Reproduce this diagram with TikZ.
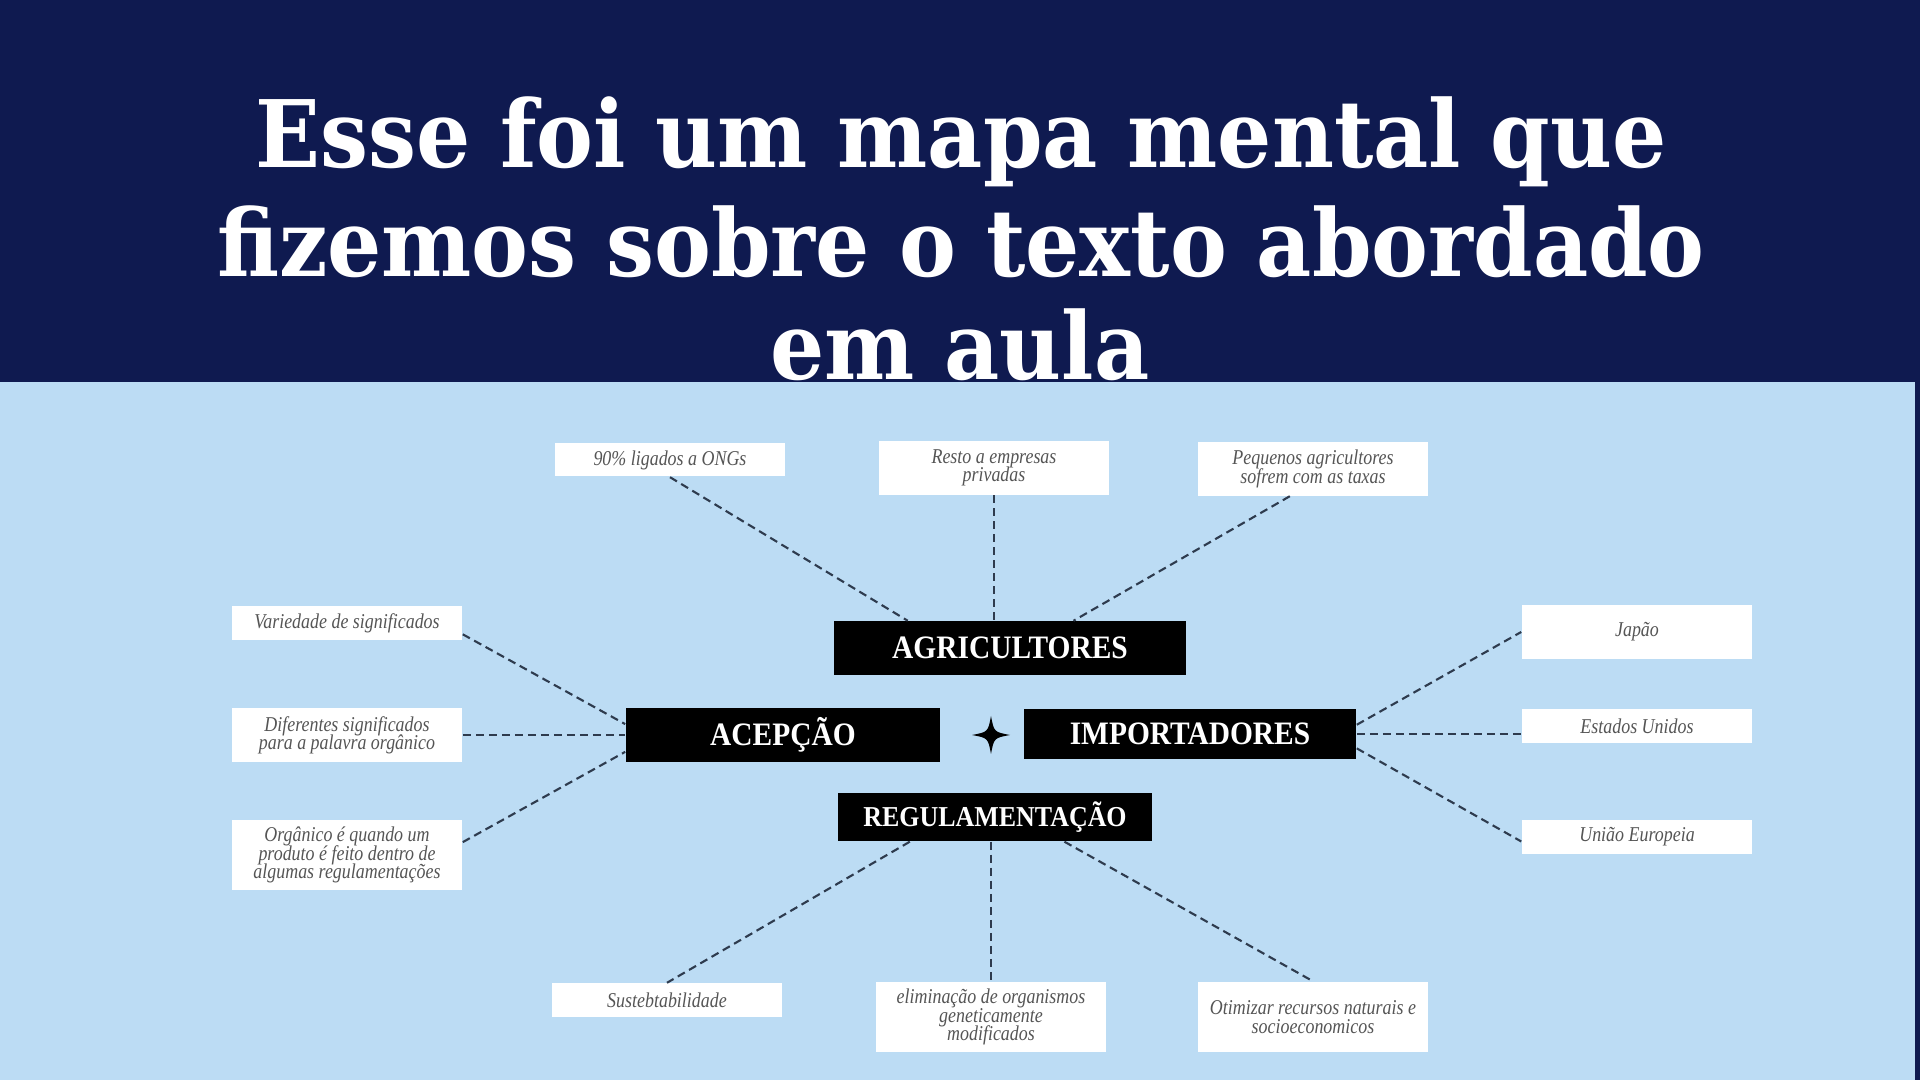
\documentclass[tikz,border=0pt]{standalone}
\usepackage{fontspec}
\setmainfont{Liberation Serif}
\newfontfamily\titlefont[FakeStretch=0.915]{DejaVu Serif}
\newfontfamily\leaffont[FakeStretch=0.85]{Liberation Serif}
\newfontfamily\keyfont[FakeStretch=0.9]{Liberation Serif}
\newcommand{\tightlines}{\lineskiplimit=-10pt\relax}
\usetikzlibrary{calc}
\definecolor{navy}{HTML}{0F1A50}
\definecolor{panel}{HTML}{BCDCF4}
\definecolor{linegray}{HTML}{2E3B4E}
\definecolor{txtgray}{HTML}{555555}

\begin{document}
\begin{tikzpicture}[x=0.01cm,y=-0.01cm,
  title/.style={text=white,anchor=base,inner sep=0pt,font=\titlefont\bfseries\fontsize{26.5}{30}\selectfont},
  keybox/.style={fill=black,text=white,inner sep=0pt,minimum height=0.53cm,font=\keyfont\bfseries\fontsize{9.3}{11}\selectfont},
  leafbox/.style={fill=white,text=txtgray,inner sep=0pt,align=center,minimum width=2.3cm,minimum height=0.33cm,font=\leaffont\itshape\fontsize{6}{5.2}\selectfont\tightlines},
  link/.style={draw=linegray,line width=0.6pt,dash pattern=on 2.3pt off 1.4pt}]
\useasboundingbox (0,0) rectangle (1920,1080);
\fill[navy] (0,0) rectangle (1920,1080);

\node[title] (tline1) at (961,168) {Esse foi um mapa mental que};
\node[title] (tline2) at (961,277) {fizemos sobre o texto abordado};
\node[title] (tline3) at (960,380) {em aula};

\fill[panel] (0,382) rectangle (1915,1080);

\node[keybox,minimum width=3.51cm] (agr) at (1010,648) {AGRICULTORES};
\node[keybox,minimum width=3.14cm] (acep) at (783,735) {ACEPÇÃO};
\node[keybox,minimum width=3.32cm,minimum height=0.50cm] (imp) at (1190,734) {IMPORTADORES};
\node[keybox,minimum width=3.14cm,minimum height=0.48cm,font=\keyfont\bfseries\fontsize{8.2}{10}\selectfont] (reg) at (995,817) {REGULAMENTAÇÃO};

\fill (991,716) .. controls (994,732) .. (1010,735) .. controls (994,738) .. (991,754)
  .. controls (988,738) .. (972,735) .. controls (988,732) .. (991,716) -- cycle;

\node[leafbox] (ong) at (670,460) {90\% ligados a ONGs};
\node[leafbox,minimum height=0.53cm] (resto) at (994,468) {Resto a empresas\\privadas};
\node[leafbox,minimum height=0.53cm] (peq) at (1313,469) {Pequenos agricultores\\sofrem com as taxas};

\node[leafbox,minimum height=0.34cm] (var) at (347,623) {Variedade de significados};
\node[leafbox,minimum height=0.53cm] (dif) at (347,735) {Diferentes significados\\para a palavra orgânico};
\node[leafbox,minimum height=0.70cm] (org) at (347,855) {Orgânico é quando um\\produto é feito dentro de\\algumas regulamentações};

\node[leafbox,minimum height=0.53cm] (jap) at (1637,632) {Japão};
\node[leafbox,minimum height=0.34cm] (eua) at (1637,726) {Estados Unidos};
\node[leafbox] (ue) at (1637,837) {União Europeia};

\node[leafbox] (sus) at (667,1000) {Sustebtabilidade};
\node[leafbox,minimum height=0.70cm] (elim) at (991,1017) {eliminação de organismos\\geneticamente\\modificados};
\node[leafbox,minimum height=0.70cm] (otim) at (1313,1017) {Otimizar recursos naturais e\\socioeconomicos};

\draw[link] (ong.south) -- ($(agr.north west)!0.21!(agr.north east)$);
\draw[link] (resto.south) -- (resto.south |- agr.north);
\draw[link] ($(peq.south west)!0.4!(peq.south east)$) -- ($(agr.north west)!0.68!(agr.north east)$);

\draw[link] ($(var.north east)!0.82!(var.south east)$) -- ($(acep.north west)!0.3!(acep.south west)$);
\draw[link] (dif.east) -- (acep.west);
\draw[link] ($(org.north east)!0.32!(org.south east)$) -- ($(acep.north west)!0.81!(acep.south west)$);

\draw[link] ($(imp.north east)!0.32!(imp.south east)$) -- (jap.west);
\draw[link] (imp.east) -- (imp.east -| eua.west);
\draw[link] ($(imp.north east)!0.78!(imp.south east)$) -- ($(ue.north west)!0.63!(ue.south west)$);

\draw[link] ($(reg.south west)!0.23!(reg.south east)$) -- (sus.north);
\draw[link] (elim.north |- reg.south) -- (elim.north);
\draw[link] ($(reg.south west)!0.72!(reg.south east)$) -- (otim.north);
\end{tikzpicture}
\end{document}
